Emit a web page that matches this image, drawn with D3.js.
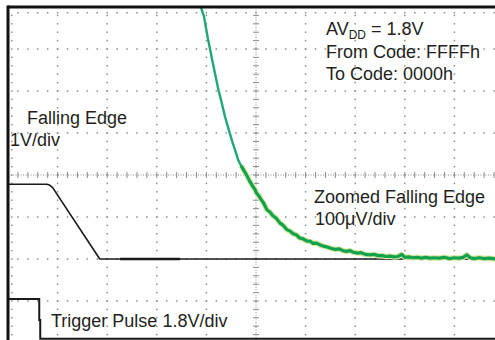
<!DOCTYPE html>
<html><head><meta charset="utf-8">
<script src="https://cdn.jsdelivr.net/npm/d3@7"></script>
<style>
html,body{margin:0;padding:0;background:#fff;}
svg{display:block;font-family:"Liberation Sans",Arial,sans-serif;}
</style></head>
<body>
<svg id="c" width="495" height="340"></svg>
<script>
// ---- data (units: screen divisions; x 0..10, y -4..4 from centre) ----
const fallingX = [0, 0.78, 0.84, 0.90, 1.85, 3.5, 10];
const fallingY = [-0.22, -0.22, -0.24, -0.30, -2.0, -2.0, -2.0];
const noisyFlatX = [2.26, 3.47];
const noisyFlatY = [-2.0, -2.0];

const triggerX = [0, 0.63, 0.63, 0.65, 0.65, 10];
const triggerY = [-2.95, -2.95, -3.45, -3.45, -3.9, -3.9];

const zoomX = [3.86,3.95,4.03,4.07,4.12,4.18,4.24,4.30,4.375,4.45,4.52,4.577,4.64,4.70,4.76,4.81,4.87,4.93,4.98,5.01,5.06,5.10,5.15,5.22,5.28,5.34,5.40,5.48,5.55,5.62,5.68,5.75,5.82,5.88,5.95,6.02,6.10,6.15,6.22,6.30,6.38,6.45,6.52,6.60,6.68,6.75,6.82,6.90,6.96,7.05,7.12,7.20,7.30,7.38,7.46,7.55,7.62,7.70,7.78,7.86,7.94,8.00,8.08,8.16,8.25,8.34,8.42,8.50,8.60,8.70,8.80,8.90,9.00,9.10,9.18,9.25,9.32,9.40,9.50,9.60,9.70,9.82,9.92,10];
const zoomY = [4.1,3.78,3.25,3.02,2.72,2.38,2.04,1.76,1.39,1.08,0.80,0.60,0.36,0.22,0.10,0.0,-0.14,-0.26,-0.35,-0.43,-0.50,-0.58,-0.66,-0.83,-0.88,-0.97,-1.02,-1.14,-1.20,-1.30,-1.33,-1.40,-1.43,-1.50,-1.52,-1.57,-1.58,-1.63,-1.62,-1.67,-1.70,-1.72,-1.75,-1.77,-1.76,-1.80,-1.82,-1.80,-1.84,-1.86,-1.85,-1.89,-1.90,-1.89,-1.92,-1.92,-1.94,-1.93,-1.95,-1.94,-1.89,-1.96,-1.95,-1.97,-1.96,-1.98,-1.96,-1.98,-1.97,-1.98,-1.96,-1.99,-1.97,-1.98,-1.96,-1.90,-1.97,-1.99,-1.97,-1.99,-1.98,-2.0,-1.98,-1.99];

const labelsTopRight = ["From Code: FFFFh", "To Code: 0000h"];

// ---- scales ----
const x = d3.scaleLinear().domain([0, 10]).range([8, 504]);
const y = d3.scaleLinear().domain([-4, 4]).range([343, 7]);

const svg = d3.select("#c");
const g = svg.append("g");
const gridCol = "#8c8c8c";

// grid dots on gridlines
const minor = d3.range(0, 10.001, 0.2);
const minorY = d3.range(-4, 4.001, 0.2);
const dots = g.append("g").attr("fill", gridCol);
[1,2,3,4,6,7,8,9].forEach(k => {
  minorY.forEach(v => dots.append("rect").attr("x", x(k) - 0.75).attr("y", y(v) - 0.75).attr("width", 1.5).attr("height", 1.5));
});
[-3,-2,-1,1,2,3].forEach(k => {
  minor.forEach(v => dots.append("rect").attr("x", x(v) - 0.75).attr("y", y(k) - 0.75).attr("width", 1.5).attr("height", 1.5));
});
// edge ticks (top and left)
minor.forEach(v => dots.append("rect").attr("x", x(v) - 0.75).attr("y", 12).attr("width", 1.5).attr("height", 1.5));
minorY.forEach(v => dots.append("rect").attr("x", 11).attr("y", y(v) - 0.75).attr("width", 1.5).attr("height", 1.5));

// centre axes with ticks
g.append("line").attr("x1", x(0)).attr("x2", 495).attr("y1", y(0)).attr("y2", y(0))
  .attr("stroke", gridCol).attr("stroke-width", 1).attr("stroke-dasharray", "1,1.5");
g.append("line").attr("x1", x(5)).attr("x2", x(5)).attr("y1", y(4)).attr("y2", 340)
  .attr("stroke", gridCol).attr("stroke-width", 1).attr("stroke-dasharray", "1,1.5");
minor.forEach(v => g.append("line").attr("x1", x(v)).attr("x2", x(v)).attr("y1", y(0) - 3).attr("y2", y(0) + 3).attr("stroke", gridCol).attr("stroke-width", 1));
minorY.forEach(v => g.append("line").attr("x1", x(5) - 3).attr("x2", x(5) + 3).attr("y1", y(v)).attr("y2", y(v)).attr("stroke", gridCol).attr("stroke-width", 1));

// traces
const line = d3.line().x(d => x(d[0])).y(d => y(d[1]));
svg.append("clipPath").attr("id", "clp").append("rect").attr("x", x(0)).attr("y", y(4)).attr("width", 495).attr("height", 340);
const tr = svg.append("g").attr("clip-path", "url(#clp)");

tr.append("path").datum(triggerX.map((v, i) => [v, triggerY[i]])).attr("d", line)
  .attr("fill", "none").attr("stroke", "#1a1a1a").attr("stroke-width", 2);
tr.append("path").datum(fallingX.map((v, i) => [v, fallingY[i]])).attr("d", line)
  .attr("fill", "none").attr("stroke", "#1a1a1a").attr("stroke-width", 1.6).attr("stroke-linejoin", "round");
tr.append("path").datum(noisyFlatX.map((v, i) => [v, noisyFlatY[i]])).attr("d", line)
  .attr("fill", "none").attr("stroke", "#1a1a1a").attr("stroke-width", 2.4);

const zd = zoomX.map((v, i) => [v, zoomY[i]]);
tr.append("path").datum(zd.filter(d => d[0] >= 4.7)).attr("d", line).attr("fill", "none")
  .attr("stroke", "#d4e8a4").attr("stroke-width", 5.5).attr("stroke-linejoin", "round");
tr.append("path").datum(zd.filter(d => d[0] <= 4.77)).attr("d", line).attr("fill", "none")
  .attr("stroke", "#22a878").attr("stroke-width", 2.4).attr("stroke-linejoin", "round");
tr.append("path").datum(zd.filter(d => d[0] >= 4.7)).attr("d", line).attr("fill", "none")
  .attr("stroke", "#13a24c").attr("stroke-width", 3.2).attr("stroke-linejoin", "round");

// frame
svg.append("line").attr("x1", x(0)).attr("x2", 495).attr("y1", y(4)).attr("y2", y(4)).attr("stroke", "#111").attr("stroke-width", 3);
svg.append("line").attr("x1", x(0)).attr("x2", x(0)).attr("y1", y(4) - 1.5).attr("y2", 340).attr("stroke", "#111").attr("stroke-width", 3);

// text
const T = svg.append("g").attr("font-size", 18).attr("fill", "#231f20");
const av = T.append("text").attr("x", 326).attr("y", 35);
av.append("tspan").text("AV");
av.append("tspan").attr("font-size", 12).attr("dy", 4).text("DD");
av.append("tspan").attr("dy", -4).text(" = 1.8V");
labelsTopRight.forEach((s, i) => T.append("text").attr("x", 326).attr("y", 58 + i * 22).text(s));
T.append("text").attr("x", 27).attr("y", 124).text("Falling Edge");
T.append("text").attr("x", 10).attr("y", 146).text("1V/div");
T.append("text").attr("x", 314).attr("y", 203).text("Zoomed Falling Edge");
T.append("text").attr("x", 315).attr("y", 225).text("100μV/div");
T.append("text").attr("x", 51).attr("y", 327).text("Trigger Pulse 1.8V/div");
</script>
</body></html>
